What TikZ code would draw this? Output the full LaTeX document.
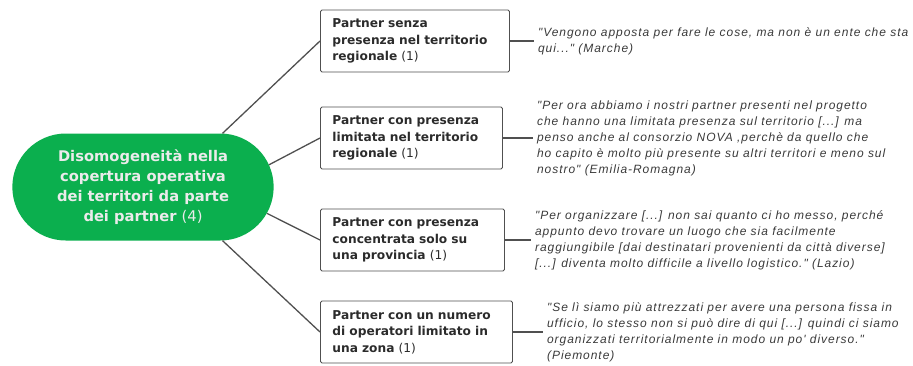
\documentclass[tikz,border=0pt]{standalone}
\usepackage{fontspec}
\setmainfont{DejaVu Sans}
\newfontfamily\quotefont[LetterSpace=8]{Liberation Sans}
\usetikzlibrary{positioning,shapes.misc}
\definecolor{mapgreen}{HTML}{0BAF4E}
\definecolor{boxtext}{HTML}{2B2B2B}
\definecolor{quotetext}{HTML}{3A3A3A}
\definecolor{linegray}{HTML}{505050}
\tikzset{
  root/.style={rounded rectangle, fill=mapgreen, text=white!92!black, align=center,
    font=\fontsize{14.7}{20}\selectfont\bfseries, minimum width=268pt, minimum height=107pt},
  branch/.style={draw=linegray, rounded corners=1.5pt, line width=0.9pt, anchor=west,
    align=left, text=boxtext, font=\fontsize{12.2}{16.5}\selectfont\bfseries,
    inner xsep=12pt, minimum height=62pt},
  quote/.style={align=left, text=quotetext, inner xsep=4pt,
    font=\quotefont\itshape\fontsize{12}{16}\selectfont},
  link/.style={draw=linegray, line width=1.3pt}
}
\begin{document}
\begin{tikzpicture}[x=1pt,y=-1pt]
  \useasboundingbox (0,0) rectangle (913,365);
  \node[root] (hub) at (143,187) {Disomogeneità nella\\copertura operativa\\dei territori da parte\\dei partner {\mdseries(4)}};
  \node[branch, text width=165pt] (p1) at (320,41) {Partner senza\\presenza nel territorio\\regionale {\mdseries(1)}};
  \node[branch, text width=158pt] (p2) at (320,138) {Partner con presenza\\limitata nel territorio\\regionale {\mdseries(1)}};
  \node[branch, text width=160pt] (p3) at (320,240) {Partner con presenza\\concentrata solo su\\una provincia {\mdseries(1)}};
  \node[branch, text width=168pt] (p4) at (320,332) {Partner con un numero\\di operatori limitato in\\una zona {\mdseries(1)}};
  \draw[link] (hub.34) -- (p1.west);
  \draw[link] (hub.10) -- (p2.west);
  \draw[link] (hub.-12) -- (p3.west);
  \draw[link] (hub.-34) -- (p4.west);
  \foreach \i/\d in {1/24,2/30,3/26,4/30} {
    \draw[link] (p\i.east) -- ++(\d,0) coordinate (q\i);
  }
  \node[quote, right=0pt of q1] (t1) {"Vengono apposta per fare le cose, ma non è un ente che sta\\qui..." (Marche)};
  \node[quote, right=0pt of q2] (t2) {"Per ora abbiamo i nostri partner presenti nel progetto\\che hanno una limitata presenza sul territorio [...] ma\\penso anche al consorzio NOVA ,perchè da quello che\\ho capito è molto più presente su altri territori e meno sul\\nostro" (Emilia-Romagna)};
  \node[quote, right=0pt of q3] (t3) {"Per organizzare [...] non sai quanto ci ho messo, perché\\appunto devo trovare un luogo che sia facilmente\\raggiungibile [dai destinatari provenienti da città diverse]\\{}[...] diventa molto difficile a livello logistico." (Lazio)};
  \node[quote, right=0pt of q4] (t4) {"Se lì siamo più attrezzati per avere una persona fissa in\\ufficio, lo stesso non si può dire di qui [...] quindi ci siamo\\organizzati territorialmente in modo un po' diverso."\\(Piemonte)};
\end{tikzpicture}
\end{document}
